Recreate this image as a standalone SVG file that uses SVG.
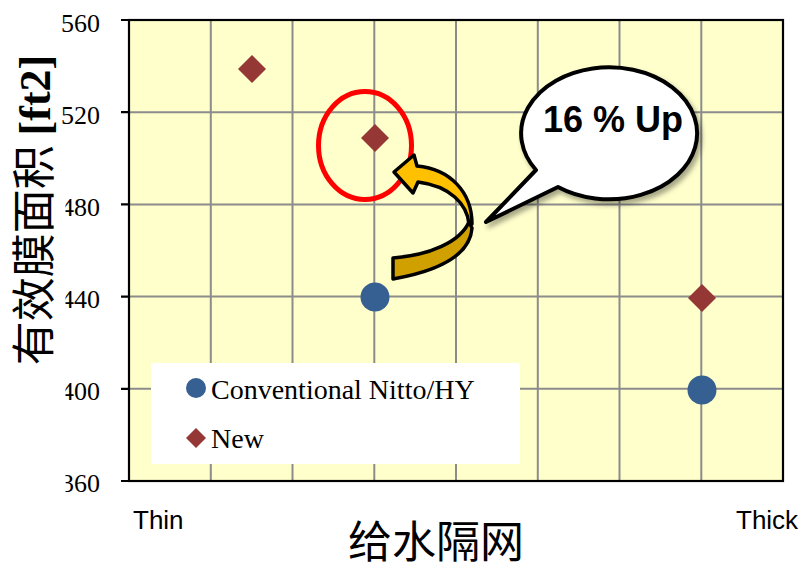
<svg xmlns="http://www.w3.org/2000/svg" width="805" height="572" viewBox="0 0 805 572">
  <style>
    .grid { stroke: #8c8c8c; stroke-width: 2; fill: none; }
    .axis { stroke: #000; stroke-width: 2.2; fill: none; }
    .ylab { font-family: "Liberation Serif", serif; font-size: 26px; fill: #000; text-anchor: end; }
    .xlab { font-family: "Liberation Sans", Arial, sans-serif; font-size: 26px; fill: #000; }
    .leg { font-family: "Liberation Serif", serif; font-size: 28px; fill: #000; }
    .title { font-family: "Noto Sans CJK SC", "Noto Sans CJK JP", sans-serif; font-size: 44px; fill: #000; }
    .newpt { fill: #953735; }
    .convpt { fill: #376092; }
    .outline { stroke: #000; stroke-width: 3.5; stroke-linejoin: round; }
  </style>
  <defs>
    <filter id="shadow" x="-20%" y="-20%" width="140%" height="140%">
      <feDropShadow dx="3" dy="4" stdDeviation="2.5" flood-color="#000" flood-opacity="0.35"/>
    </filter>
    <path id="dia" d="M0,-14 L14,0 L0,14 L-14,0 Z"/>
  </defs>
  <rect width="805" height="572" fill="#fff"/>

  <g id="plot-area">
    <rect x="129" y="20" width="654" height="461" fill="#FFFFCC"/>
    <g id="grid">
      <path class="grid" d="M210.8,20V481 M292.5,20V481 M374.3,20V481 M456,20V481 M537.8,20V481 M619.5,20V481 M701.3,20V481"/>
      <path class="grid" d="M129,112.2H783 M129,204.4H783 M129,296.6H783 M129,388.8H783"/>
    </g>
    <g id="axes">
      <rect class="axis" x="129" y="20" width="654" height="461"/>
      <path class="axis" d="M121,20H129 M121,112.2H129 M121,204.4H129 M121,296.6H129 M121,388.8H129 M121,481H129"/>
    </g>
  </g>

  <g id="y-labels">
    <text class="ylab" x="100" y="32">560</text>
    <text class="ylab" x="100" y="124">520</text>
    <text class="ylab" x="100" y="216">480</text>
    <text class="ylab" x="100" y="308">440</text>
    <text class="ylab" x="100" y="400">400</text>
    <text class="ylab" x="100" y="492">360</text>
    <rect x="0" y="185" width="65.5" height="315" fill="#fff"/>
  </g>

  <g id="x-labels">
    <text class="xlab" x="133" y="529">Thin</text>
    <text class="xlab" x="736" y="529">Thick</text>
  </g>

  <g id="y-title">
    <text class="title" transform="translate(50,210) rotate(-90)" text-anchor="middle">有效膜面积 <tspan font-family="Liberation Serif, serif" font-weight="bold">[ft2]</tspan></text>
  </g>
  <g id="x-title">
    <text class="title" x="436" y="558" text-anchor="middle" font-size="46">给水隔网</text>
  </g>

  <g id="legend">
    <rect x="151" y="363" width="369" height="101" fill="#fff"/>
    <circle class="convpt" cx="196" cy="388" r="10"/>
    <text class="leg" x="211" y="399">Conventional Nitto/HY</text>
    <path class="newpt" d="M196,428 L206,438 L196,448 L186,438 Z"/>
    <text class="leg" x="211" y="448">New</text>
  </g>

  <g id="data-new">
    <use href="#dia" class="newpt" x="252" y="69"/>
    <use href="#dia" class="newpt" x="375" y="138"/>
    <use href="#dia" class="newpt" x="702" y="298"/>
  </g>
  <g id="data-conventional">
    <circle class="convpt" cx="375" cy="297" r="14.5"/>
    <circle class="convpt" cx="702" cy="390" r="14.5"/>
  </g>

  <g id="highlight">
    <ellipse cx="365" cy="145.5" rx="46.5" ry="54" fill="none" stroke="#FF0000" stroke-width="5"/>
  </g>

  <g id="connectors">
    <path class="outline" fill="#D0A000" d="M393,258 C430,255 460,242 469,222 L472,228 C470,255 438,271 393,279 Z"/>
    <path class="outline" fill="#FFC000" d="M469,224 C467,204 450,186 418,182 L413,193 L394,172 L414,155 L417,166 C450,169 472,192 472,224 Z"/>
  </g>

  <g id="callout">
    <path filter="url(#shadow)" fill="#fff" stroke="#000" stroke-width="4" stroke-linejoin="round" d="M536,170 L486,222 L558,187 A88,66 0 1 0 536,170 Z"/>
    <text x="613" y="132" text-anchor="middle" font-family="Liberation Sans, Arial, sans-serif" font-weight="bold" font-size="36">16 % Up</text>
  </g>
</svg>
